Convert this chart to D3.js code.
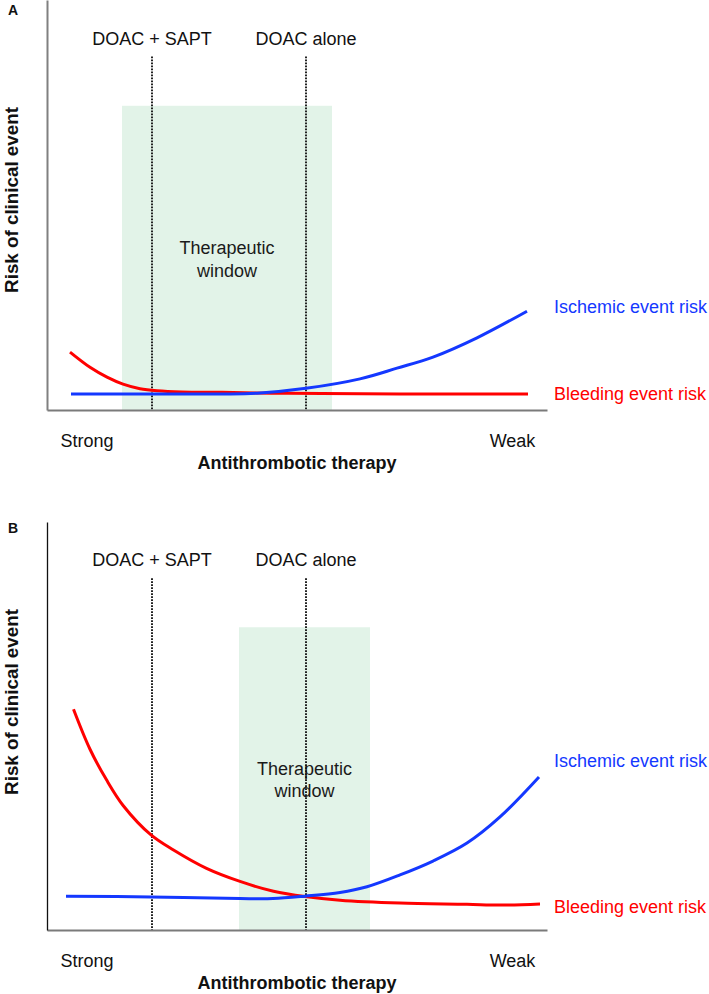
<!DOCTYPE html>
<html><head><meta charset="utf-8">
<script src="https://cdn.jsdelivr.net/npm/d3@7"></script>
<style>
body{margin:0;background:#fff;}
svg text{font-family:"Liberation Sans",Arial,Helvetica,sans-serif;}
</style></head><body>
<svg id="chart" width="709" height="994"></svg>
<script>
// ---- data ----
const panelLabels = ["A", "B"];
const seriesNames = ["Ischemic event risk", "Bleeding event risk"];
const strategyLabels = ["DOAC + SAPT", "DOAC alone"];
const strategyX = [21, 51.8];
const windowA = [15, 57];
const windowB = [38.4, 64.6];
const windowLabel = ["Therapeutic", "window"];
const xTickLabels = ["Strong", "Weak"];
const xTickValues = [7.9, 93];
const xTitle = "Antithrombotic therapy";
const yTitle = "Risk of clinical event";

const ischemicA = [[4.8,3.9],[20,3.9],[35,3.9],[42,4.1],[51.8,5.3],[62.6,7.6],[70,10.2],[77.2,12.9],[86,17.6],[96,24.1]];
const bleedingA = [[4.6,14.1],[8.6,10.4],[12,8.0],[15.2,6.3],[18.6,5.2],[22,4.7],[27,4.4],[35,4.3],[45,4.1],[55,4.0],[70.6,3.9],[96.2,3.9]];
const ischemicB = [[3.8,8.3],[20.8,8.1],[38.6,7.7],[45.2,7.7],[51.6,8.3],[58.6,9.2],[64,10.6],[70.6,13.5],[77.2,16.9],[84,21.3],[90.6,27.7],[98.4,37.5]];
const bleedingB = [[5.3,54.1],[8.6,44.3],[11.9,36.8],[15.3,30.4],[20.8,23.3],[25.3,19.6],[31.9,15.1],[38.6,11.9],[45.3,9.5],[51.6,8.2],[58.6,7.3],[70.6,6.6],[84,6.3],[90.6,6.1],[98.6,6.4]];

// ---- layout ----
const colors = {ischemic: "#1438ff", bleeding: "#ff0000", window: "#e2f3e8", axis: "#7a7a7a", dots: "#222"};
const panels = [
  {label: panelLabels[0], top: 0, axisY: 410, labelY: 15, ischemic: ischemicA, bleeding: bleedingA, win: windowA,
   yAxisColor: "#808080", yAxisWidth: 2, yTitleY: 200, isLabelV: 23.7, blLabelV: 2.4},
  {label: panelLabels[1], top: 522, axisY: 930, labelY: 533, ischemic: ischemicB, bleeding: bleedingB, win: windowB,
   yAxisColor: "#111", yAxisWidth: 1.3, yTitleY: 702, isLabelV: 40, blLabelV: 4.2}
];
const windowTopV = 74.2, dotTopV = 86.2, stratLabelV = 89.1, therV = [38, 32.5];

const svg = d3.select("#chart");
const x = d3.scaleLinear().domain([0, 100]).range([47, 547]);

panels.forEach(p => {
  const y = d3.scaleLinear().domain([0, 100]).range([p.axisY, p.top]);
  const g = svg.append("g");

  // therapeutic window
  g.append("rect")
    .attr("x", x(p.win[0])).attr("width", x(p.win[1]) - x(p.win[0]))
    .attr("y", y(windowTopV)).attr("height", y(0) - y(windowTopV))
    .attr("fill", colors.window);

  // strategy dotted lines
  strategyX.forEach((sx, i) => {
    g.append("line")
      .attr("x1", x(sx)).attr("x2", x(sx))
      .attr("y1", y(dotTopV)).attr("y2", y(0))
      .attr("stroke", colors.dots).attr("stroke-width", 2)
      .attr("stroke-dasharray", "1.6,1.4");
    g.append("text")
      .attr("x", x(sx)).attr("y", y(stratLabelV))
      .attr("text-anchor", "middle").attr("font-size", 18).attr("fill", "#111")
      .text(strategyLabels[i]);
  });

  // therapeutic window label
  const cx = (x(p.win[0]) + x(p.win[1])) / 2;
  windowLabel.forEach((t, i) => {
    g.append("text").attr("x", cx).attr("y", y(therV[i]))
      .attr("text-anchor", "middle").attr("font-size", 18).attr("fill", "#1a1a1a").text(t);
  });

  // axes
  const xAxis = d3.axisBottom(x).tickValues(xTickValues)
    .tickFormat((d, i) => xTickLabels[i]).tickSizeInner(0).tickSizeOuter(0).tickPadding(24);
  const xa = g.append("g").attr("transform", `translate(0,${p.axisY})`).call(xAxis);
  xa.select(".domain").attr("stroke", colors.axis).attr("stroke-width", 1.8);
  xa.selectAll("text").attr("font-size", 18).attr("fill", "#111")
    .attr("font-family", "'Liberation Sans',Arial,sans-serif");

  const yAxis = d3.axisLeft(y).tickValues([]).tickSizeOuter(0);
  const ya = g.append("g").attr("transform", `translate(${x(0)},0)`).call(yAxis);
  ya.select(".domain").attr("stroke", p.yAxisColor).attr("stroke-width", p.yAxisWidth);

  // titles
  g.append("text").attr("x", (x(0) + x(100)) / 2).attr("y", p.axisY + 59)
    .attr("text-anchor", "middle").attr("font-size", 18).attr("font-weight", "bold").attr("fill", "#111")
    .text(xTitle);
  g.append("text").attr("transform", `translate(18,${p.yTitleY}) rotate(-90)`)
    .attr("text-anchor", "middle").attr("font-size", 18.8).attr("font-weight", "bold").attr("fill", "#111")
    .text(yTitle);
  g.append("text").attr("x", 8).attr("y", p.labelY)
    .attr("font-size", 14).attr("font-weight", "bold").attr("fill", "#111").text(p.label);

  // curves
  const line = d3.line().x(d => x(d[0])).y(d => y(d[1])).curve(d3.curveCatmullRom.alpha(0.5));
  g.append("path").datum(p.bleeding).attr("d", line)
    .attr("fill", "none").attr("stroke", colors.bleeding).attr("stroke-width", 3);
  g.append("path").datum(p.ischemic).attr("d", line)
    .attr("fill", "none").attr("stroke", colors.ischemic).attr("stroke-width", 3);

  // series labels
  g.append("text").attr("x", x(101.4)).attr("y", y(p.isLabelV))
    .attr("font-size", 18).attr("fill", colors.ischemic).text(seriesNames[0]);
  g.append("text").attr("x", x(101.4)).attr("y", y(p.blLabelV))
    .attr("font-size", 18).attr("fill", colors.bleeding).text(seriesNames[1]);
});
</script>
</body></html>
